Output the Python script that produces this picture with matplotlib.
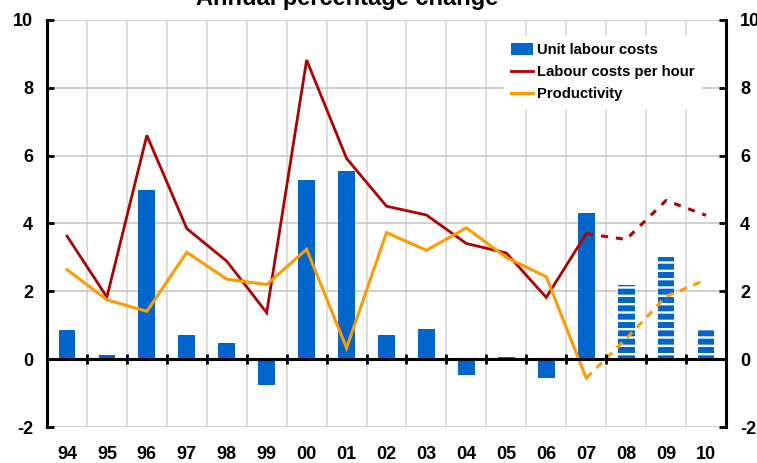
import matplotlib
matplotlib.use("Agg")
import matplotlib.pyplot as plt
from matplotlib.patches import Patch
from matplotlib.lines import Line2D
import numpy as np

# ---- data ----
years = ["94", "95", "96", "97", "98", "99", "00", "01", "02", "03",
         "04", "05", "06", "07", "08", "09", "10"]
unit_labour_costs = [0.87, 0.13, 4.98, 0.72, 0.48, -0.76, 5.27, 5.54, 0.72, 0.90,
                     -0.46, 0.07, -0.57, 4.30, 2.20, 3.00, 0.92]
labour_costs_per_hour = [3.63, 1.83, 6.60, 3.85, 2.89, 1.37, 8.82, 5.92, 4.51, 4.25,
                         3.41, 3.13, 1.82, 3.70, 3.53, 4.68, 4.24]
productivity = [2.64, 1.75, 1.41, 3.15, 2.36, 2.20, 3.24, 0.33, 3.73, 3.21,
                3.87, 3.00, 2.43, -0.56, 0.60, 1.85, 2.34]
last_actual = "07"   # later years are forecasts
y_ticks = [-2, 0, 2, 4, 6, 8, 10]
title = "Annual percentage change"
legend_labels = ["Unit labour costs", "Labour costs per hour", "Productivity"]

BLUE = "#0066CC"
RED = "#B00000"
ORANGE = "#FF9A00"

plt.rcParams["font.family"] = ["Liberation Sans", "DejaVu Sans"]
plt.rcParams["font.weight"] = "bold"
plt.rcParams["hatch.linewidth"] = 1.7
plt.rcParams["axes.unicode_minus"] = False

W, H = 757, 463
fig = plt.figure(figsize=(W / 100, H / 100), dpi=100)
ax = fig.add_axes([47 / W, 1 - 427 / H, (726 - 47) / W, (427 - 20) / H])

x = np.arange(len(years))
k = years.index(last_actual)

# bars
ax.bar(x[:k + 1], unit_labour_costs[:k + 1], width=0.42, color=BLUE, zorder=3)
ax.bar(x[k + 1:], unit_labour_costs[k + 1:], width=0.42, color=BLUE,
       edgecolor="white", linewidth=0, hatch="--", zorder=3)

# lines
ax.plot(x[:k + 1], labour_costs_per_hour[:k + 1], color=RED, lw=2.0, zorder=4,
        solid_joinstyle="miter")
ax.plot(x[k:], labour_costs_per_hour[k:], color=RED, lw=2.2, zorder=4,
        linestyle=(0, (2.3, 2.6)))
ax.plot(x[:k + 1], productivity[:k + 1], color=ORANGE, lw=2.2, zorder=4,
        solid_joinstyle="miter")
ax.plot(x[k:], productivity[k:], color=ORANGE, lw=2.2, zorder=4,
        linestyle=(0, (2.5, 2.2)))

ax.set_xlim(-0.5, len(years) - 0.5)
ax.set_ylim(y_ticks[0], y_ticks[-1])

# y axes
ax.set_yticks(y_ticks)
ax.tick_params(axis="y", direction="in", length=5, width=2, labelsize=13, pad=10,
               left=True, right=True, labelleft=True, labelright=True)
for lab in ax.get_yticklabels():
    lab.set_fontweight("bold")
ax.yaxis.grid(True, color="#C8C8C8", lw=1.2, zorder=0)

# x axis: labels at bottom, boundaries as minor grid
ax.set_xticks(x)
ax.set_xticklabels(years, fontsize=13, fontweight="bold")
ax.tick_params(axis="x", which="major", length=0, pad=14)
bounds = np.arange(len(years) + 1) - 0.5
ax.set_xticks(bounds, minor=True)
ax.tick_params(axis="x", which="minor", length=0)
ax.xaxis.grid(True, which="minor", color="#D8D8D8", lw=1.2, zorder=0)

for s in ["left", "right"]:
    ax.spines[s].set_linewidth(2.2)
    ax.spines[s].set_color("black")
ax.spines["top"].set_visible(False)
ax.spines["bottom"].set_visible(False)

# zero line with boundary ticks
zero_frac = (0 - y_ticks[0]) / (y_ticks[-1] - y_ticks[0])
sec = ax.secondary_xaxis(zero_frac)
sec.set_xticks(bounds[1:-1])
sec.tick_params(axis="x", direction="inout", length=7, width=2, labelbottom=False,
                labeltop=False)
sec.spines["bottom"].set_linewidth(2.2)
sec.spines["bottom"].set_color("black")
sec.set_zorder(5)

handles = [Patch(facecolor=BLUE, edgecolor="none"),
           Line2D([], [], color=RED, lw=2.0),
           Line2D([], [], color=ORANGE, lw=2.2)]
leg = ax.legend(handles, legend_labels, loc="upper left",
                bbox_to_anchor=(0.662, 0.98), frameon=True,
                fancybox=False, edgecolor="none", facecolor="white", framealpha=1,
                prop={"weight": "bold", "size": 10.7}, handlelength=1.45,
                handleheight=0.8, handletextpad=0.3, labelspacing=0.55, borderpad=0.5)
leg.set_zorder(6)

fig.text(347 / W, 1 - 5 / H, title, ha="center", va="baseline",
         fontsize=17, fontweight="bold")

fig.savefig("out.png", dpi=100)
